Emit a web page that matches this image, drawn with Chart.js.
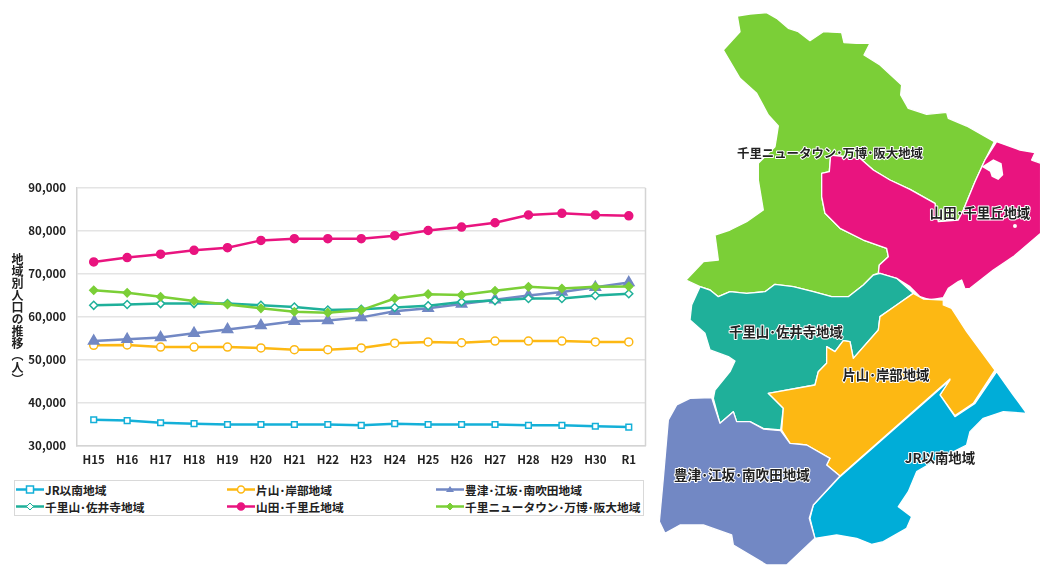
<!DOCTYPE html>
<html lang="ja">
<head>
<meta charset="utf-8">
<title>地域別人口の推移</title>
<script src="https://cdn.jsdelivr.net/npm/chart.js@4/dist/chart.umd.min.js"></script>
<style>
  html, body { margin: 0; padding: 0; background: #fff; }
  body { position: relative; width: 1040px; height: 565px; overflow: hidden;
         font-family: "Noto Sans CJK JP", "Noto Sans", sans-serif; color: #222; }
  #chartBox { position: absolute; left: 0; top: 170px; width: 653px; height: 300px; }
  #yTitle { position: absolute; left: 10px; top: 253px; writing-mode: vertical-rl;
            font-size: 12px; font-weight: 700; line-height: 14px; }
  #legend { position: absolute; left: 14px; top: 480px; width: 628px; height: 34px;
            border: 1.5px solid #d9d9d9; }
  .item { position: absolute; height: 18px; font-size: 11.7px; font-weight: 700;
          line-height: 17px; white-space: nowrap; }
  .item svg { position: absolute; left: 0; top: 0; }
  .item span { position: absolute; left: 29px; top: 0; }
  #map { position: absolute; left: 0; top: 0; }
  #map text { font-size: 13.4px; font-weight: 700; fill: #222; text-anchor: middle;
              stroke: #fff; stroke-width: 2px; paint-order: stroke; stroke-linejoin: round;
              font-family: "Noto Sans CJK JP", sans-serif; }
</style>
</head>
<body>
<div id="chartBox"><canvas id="popChart" width="653" height="300"></canvas></div>
<div id="yTitle">地域別人口の推移（人）</div>
<div id="legend"></div>

<!-- region map, it carries no data -->
<svg id="map" width="1040" height="565" viewBox="0 0 1040 565">
  <g transform="translate(650 275) scale(0.3333)" stroke="#fff" stroke-width="4" stroke-linejoin="round">
    <polygon fill="#7bcf37" points="262,-777 300,-783 350,-787 380,-770 415,-740 445,-730 480,-703 520,-730 575,-727 582,-697 620,-695 660,-695 642,-660 690,-630 755,-570 752,-540 775,-500 830,-482 890,-488 895,-470 950,-447 1033,-400 1005,-345 975,-280 940,-195 925,-165 865,-160 855,-215 780,-257 720,-285 670,-315 630,-350 542,-360 538,-310 515,-305 515,-235 525,-185 570,-140 640,-105 710,-80 715,-55 688,-30 685,-5 670,0 640,30 595,65 545,65 490,50 430,35 375,28 345,50 290,55 240,50 205,65 180,45 150,35 108,15 160,-40 205,-45 195,-120 240,-135 290,-160 340,-195 325,-285 325,-335 375,-385 380,-415 385,-447 355,-480 320,-545 270,-590 220,-675 270,-730"/>
    <polygon fill="#e9147f" points="1040,-400 1110,-375 1155,-367 1145,-345 1172,-335 1172,-125 1090,-55 1030,-15 960,40 945,42 935,15 925,20 895,40 880,68 840,75 810,65 780,35 740,10 690,-5 685,-5 688,-30 715,-55 710,-80 640,-105 570,-140 525,-185 515,-235 515,-305 538,-310 542,-360 630,-350 670,-315 720,-285 780,-257 855,-215 865,-160 925,-165 940,-195 975,-280 1005,-345"/>
    <polygon fill="#fff" stroke="none" points="995,-325 1030,-347 1055,-335 1060,-300 1045,-285 1025,-295 1020,-310"/>
    <circle cx="1095" cy="-147" r="6" fill="#fff" stroke="none"/>
    <polygon fill="#1fb09a" points="150,35 180,45 205,65 240,50 290,55 345,50 375,28 430,35 490,50 545,65 595,65 640,30 670,0 690,-5 740,10 790,55 740,90 690,125 685,165 610,250 600,200 580,197 555,230 530,215 530,265 505,290 495,330 355,355 400,400 392,465 340,460 300,440 260,440 250,410 210,445 190,370 195,345 240,290 255,258 235,245 180,225 165,175 120,135 125,90"/>
    <polygon fill="#fdb813" points="790,55 820,72 880,75 880,90 905,100 950,170 1035,285 970,385 915,422 870,360 900,312 570,603 530,570 540,550 470,510 420,505 395,465 400,400 355,355 495,330 505,290 530,265 530,215 555,230 580,197 600,200 610,250 685,165 690,125 740,90"/>
    <polygon fill="#00add8" points="1040,290 1090,360 1130,415 1060,410 1000,430 960,470 950,510 860,555 800,590 775,650 745,695 785,725 770,760 700,800 665,808 620,790 560,780 495,790 480,730 490,690 570,605 900,315 870,360 915,425 975,385"/>
    <polygon fill="#7288c4" points="185,368 210,445 250,410 260,440 300,440 340,462 392,467 420,505 470,510 540,550 530,570 570,603 490,690 478,730 495,790 410,870 350,870 250,810 245,780 160,750 90,750 45,775 28,740 40,610 55,435 80,390 120,370"/>
  </g>
  <g id="mapLabels"></g>
</svg>

<script>
// regions and yearly population
const years = ['H15','H16','H17','H18','H19','H20','H21','H22','H23','H24','H25','H26','H27','H28','H29','H30','R1'];
const yTicks = [30000, 40000, 50000, 60000, 70000, 80000, 90000];

const jrNames = 'JR以南地域';
const katayamaNames = '片山･岸部地域';
const toyotsuNames = '豊津･江坂･南吹田地域';
const senriyamaNames = '千里山･佐井寺地域';
const yamadaNames = '山田･千里丘地域';
const newtownNames = '千里ニュータウン･万博･阪大地域';

const jrValues = [36100,35900,35400,35200,35000,35000,35000,35000,34800,35200,35000,35000,35000,34800,34800,34600,34400];
const katayamaValues = [53400,53500,53000,53000,53000,52800,52400,52400,52800,53900,54200,54000,54400,54400,54400,54200,54200];
const toyotsuValues = [54400,54800,55200,56200,57100,58000,59000,59200,59900,61300,62000,63000,64000,65000,65800,66900,68000];
const senriyamaValues = [62700,62900,63100,63100,63100,62700,62300,61600,61800,62200,62600,63500,63800,64300,64300,65000,65400];
const yamadaValues = [72800,73800,74600,75500,76100,77800,78200,78200,78200,78900,80100,80900,81900,83700,84100,83700,83500];
const newtownValues = [66200,65600,64700,63700,62900,62000,61200,61000,61600,64300,65300,65100,66100,67000,66600,67000,67100];

const tickFont = { family: '"Noto Sans CJK JP", sans-serif', size: 11.5, weight: '700' };

function makeSeries(label, data, color, shape, filled, order) {
  return {
    label: label,
    data: data,
    borderColor: color,
    borderWidth: 2.5,
    pointStyle: shape,
    pointRadius: shape === 'triangle' ? 6 : 4,
    pointBorderColor: color,
    pointBorderWidth: 1.5,
    pointBackgroundColor: filled ? color : '#fff',
    tension: 0,
    order: order,
  };
}

const series = [
  makeSeries(jrNames, jrValues, '#14b0d8', 'rect', false, 5),
  makeSeries(katayamaNames, katayamaValues, '#fdb813', 'circle', false, 4),
  makeSeries(toyotsuNames, toyotsuValues, '#7288c4', 'triangle', true, 3),
  makeSeries(senriyamaNames, senriyamaValues, '#1fb09a', 'rectRot', false, 2),
  makeSeries(yamadaNames, yamadaValues, '#e9147f', 'circle', true, 1),
  makeSeries(newtownNames, newtownValues, '#7bcf37', 'rectRot', true, 0),
];

// right hand edge of the plot frame
const frameEdge = {
  id: 'frameEdge',
  beforeDatasetsDraw(chart) {
    const a = chart.chartArea, c = chart.ctx;
    c.save();
    c.strokeStyle = '#d4d4d4';
    c.lineWidth = 1.5;
    c.beginPath();
    c.moveTo(a.right, a.top);
    c.lineTo(a.right, a.bottom);
    c.stroke();
    c.restore();
  }
};

new Chart(document.getElementById('popChart'), {
  type: 'line',
  data: { labels: years, datasets: series },
  plugins: [frameEdge],
  options: {
    responsive: false,
    animation: false,
    layout: { padding: { top: 2, right: 2, bottom: 0, left: 0 } },
    plugins: { legend: { display: false }, tooltip: { enabled: false } },
    scales: {
      x: {
        offset: true,
        grid: { display: false, tickLength: 0 },
        border: { color: '#d4d4d4', width: 1.5 },
        ticks: { color: '#222', font: tickFont, padding: 7, maxRotation: 0 },
        afterFit(axis) { axis.height = 24; },
      },
      y: {
        min: 30000,
        max: 90000,
        afterBuildTicks(axis) { axis.ticks = yTicks.map(v => ({ value: v })); },
        grid: { color: '#e4e4e4', lineWidth: 1.5, drawTicks: false },
        border: { color: '#d4d4d4', width: 1.5 },
        ticks: {
          color: '#222', font: tickFont, padding: 11,
          callback: v => v.toLocaleString('en-US'),
        },
        afterFit(axis) { axis.width = 77; },
      },
    },
  },
});

// html legend in the three column box of the picture
const legendSpots = [[1, 0], [212, 0], [421, 0], [1, 17], [212, 17], [421, 17]];

function swatch(s) {
  const c = s.borderColor, f = s.pointBackgroundColor;
  let mark;
  if (s.pointStyle === 'rect') mark = `<rect x="10.5" y="5" width="7" height="7" fill="${f}" stroke="${c}" stroke-width="1.5"/>`;
  if (s.pointStyle === 'circle') mark = `<circle cx="14" cy="8.5" r="3.5" fill="${f}" stroke="${c}" stroke-width="1.5"/>`;
  if (s.pointStyle === 'triangle') mark = `<polygon points="14,5 18,11 10,11" fill="${f}"/>`;
  if (s.pointStyle === 'rectRot') mark = `<polygon points="14,5 17.5,8.5 14,12 10.5,8.5" fill="${f}" stroke="${c}" stroke-width="1"/>`;
  return `<svg width="28" height="18"><line x1="0" y1="8.5" x2="28" y2="8.5" stroke="${c}" stroke-width="2.5"/>${mark}</svg>`;
}

const legendBox = document.getElementById('legend');
series.forEach((s, i) => {
  const d = document.createElement('div');
  d.className = 'item';
  d.style.left = legendSpots[i][0] + 'px';
  d.style.top = legendSpots[i][1] + 'px';
  d.innerHTML = swatch(s) + '<span>' + s.label + '</span>';
  legendBox.appendChild(d);
});

// names written on the map: name, centre x, centre y, font size
const mapNames = [
  [newtownNames, 830, 158, 12.4],
  [yamadaNames, 980, 218, 13.4],
  [senriyamaNames, 786, 337, 13.4],
  [katayamaNames, 886, 380, 13.4],
  [jrNames, 940, 463, 13.4],
  [toyotsuNames, 742, 480, 13.6],
];
const labelGroup = document.getElementById('mapLabels');
mapNames.forEach(n => {
  const t = document.createElementNS('http://www.w3.org/2000/svg', 'text');
  t.setAttribute('x', n[1]);
  t.setAttribute('y', n[2]);
  t.style.fontSize = n[3] + 'px';
  t.textContent = n[0];
  labelGroup.appendChild(t);
});
</script>
</body>
</html>
